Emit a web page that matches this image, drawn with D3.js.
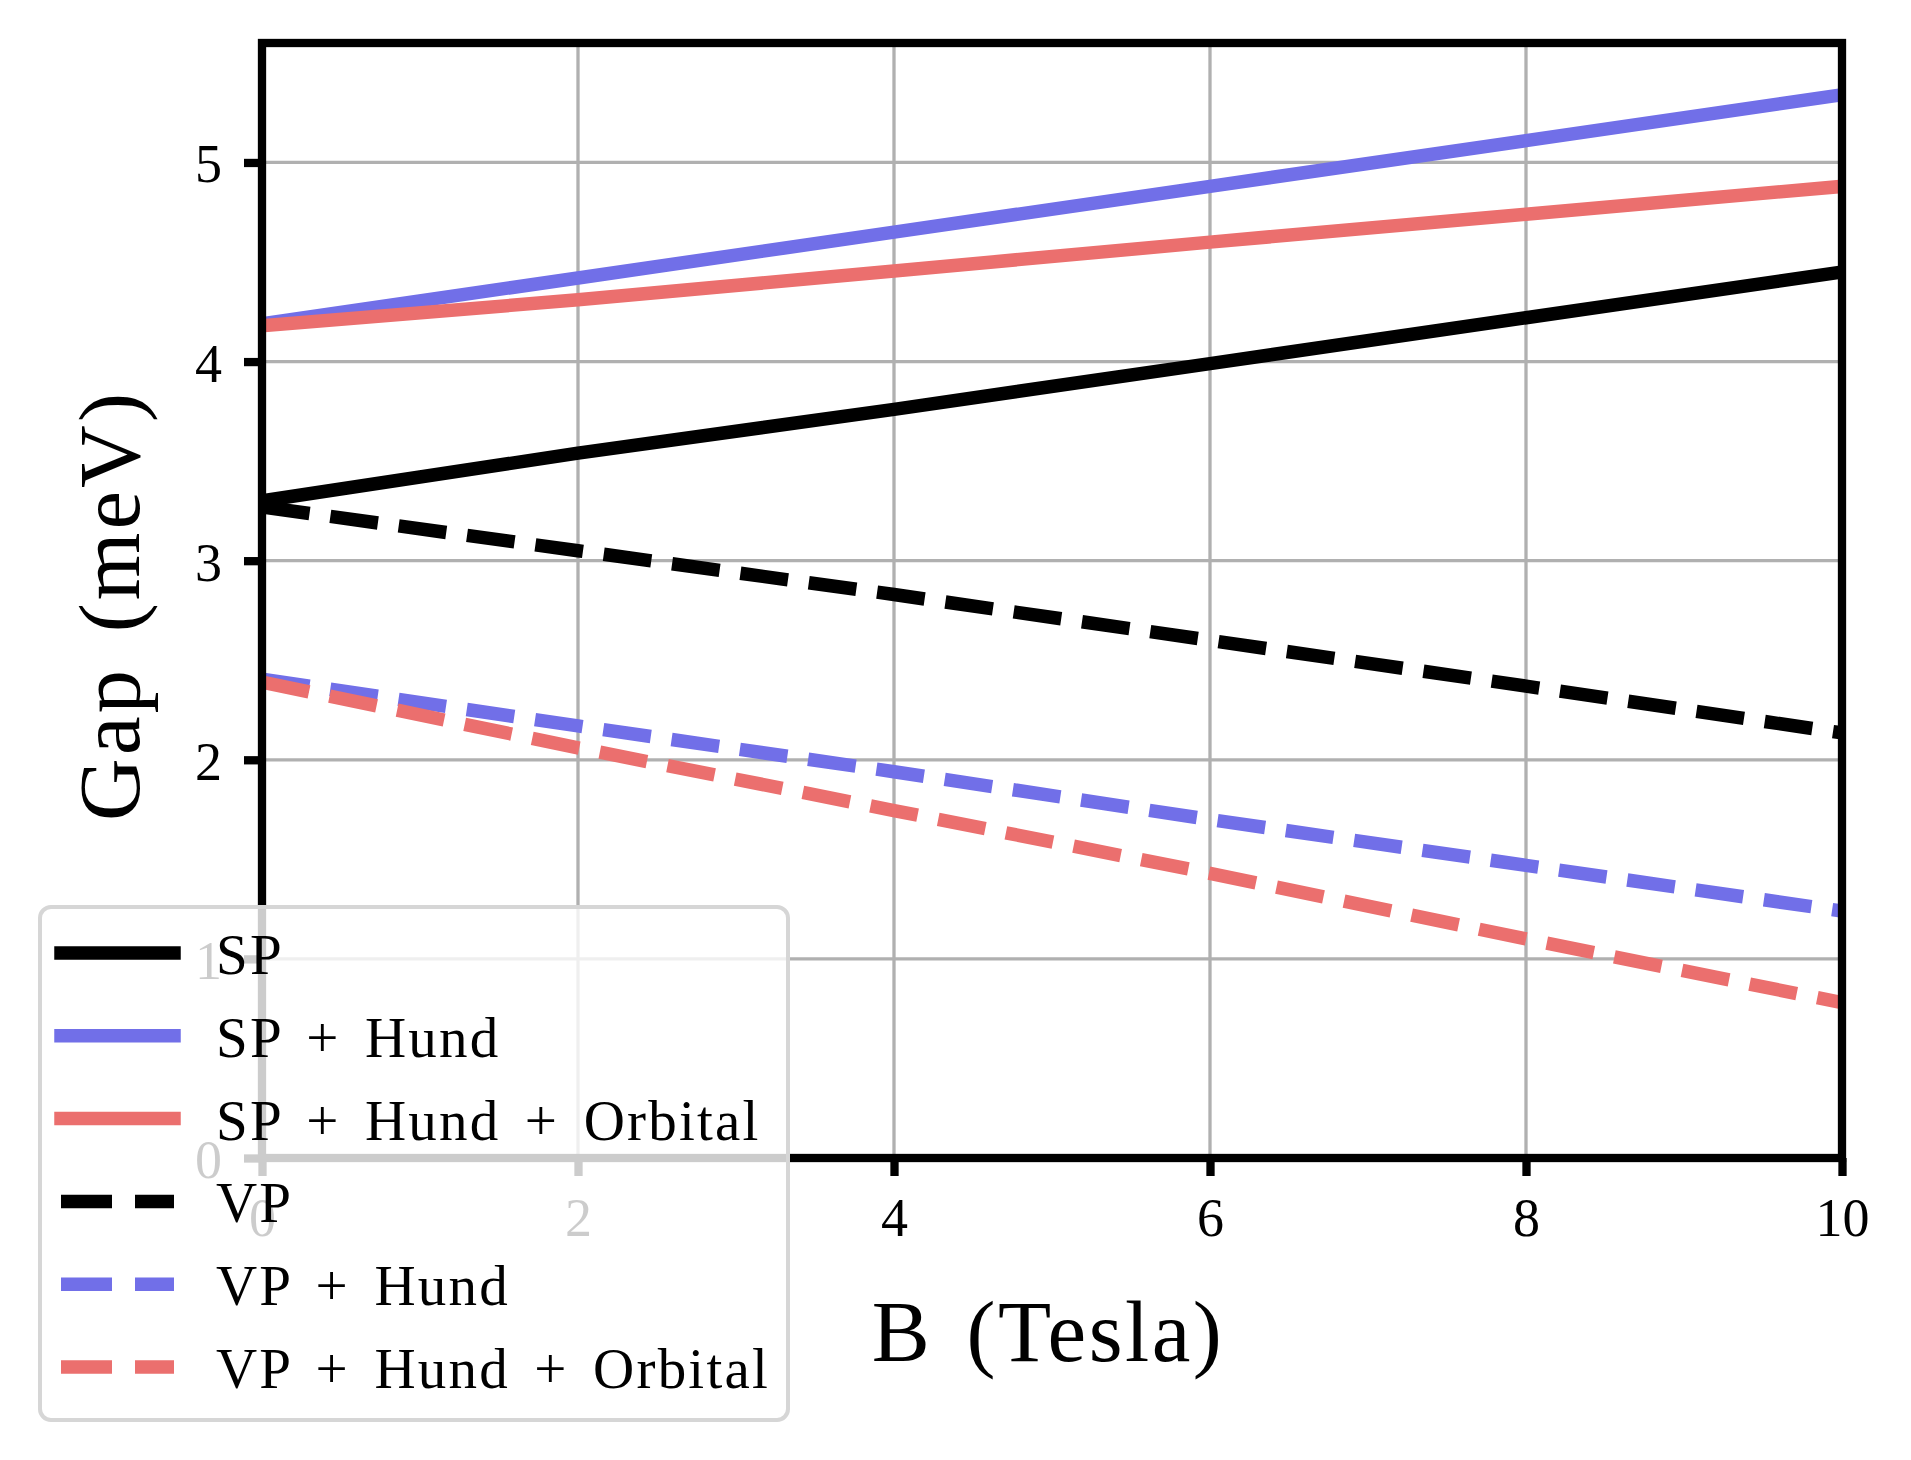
<!DOCTYPE html>
<html>
<head>
<meta charset="utf-8">
<script src="https://cdn.jsdelivr.net/npm/d3@7"></script>
<style>
  body { margin: 0; background: #fff; }
  text { font-family: "Liberation Serif", "Times New Roman", serif; }
</style>
</head>
<body>
<div id="container"></div>
<script>
const fieldB = [0, 2, 4, 6, 8, 10]
const sp = [3.30, 3.54, 3.76, 3.99, 4.22, 4.45]
const spHund = [4.19, 4.42, 4.65, 4.88, 5.11, 5.34]
const spHundOrb = [4.18, 4.31, 4.455, 4.60, 4.74, 4.88]
const vp = [3.27, 3.05, 2.83, 2.60, 2.37, 2.135]
const vpHund = [2.405, 2.17, 1.94, 1.70, 1.47, 1.24]
const vpHundOrb = [2.39, 2.06, 1.745, 1.43, 1.10, 0.78]
const seriesNames = ["SP", "SP + Hund", "SP + Hund + Orbital", "VP", "VP + Hund", "VP + Hund + Orbital"]
const xTicks = [0, 2, 4, 6, 8, 10]
const yTicks = [0, 1, 2, 3, 4, 5]

const w = 1911
const h = 1460
const pLeft = 262, pRight = 1842, pTop = 43, pBottom = 1158

const blue = "#716fe8"
const red = "#eb6f6e"
const series = [
    { name: seriesNames[0], values: sp, color: "#000", dash: null },
    { name: seriesNames[1], values: spHund, color: blue, dash: null },
    { name: seriesNames[2], values: spHundOrb, color: red, dash: null },
    { name: seriesNames[3], values: vp, color: "#000", dash: "48,21" },
    { name: seriesNames[4], values: vpHund, color: blue, dash: "48,21" },
    { name: seriesNames[5], values: vpHundOrb, color: red, dash: "48,21" }
]

const xScale = d3.scaleLinear().domain([0, 10]).range([pLeft, pRight])
const yScale = d3.scaleLinear().domain([0, 5.6]).range([pBottom, pTop])

const svg = d3.select("#container")
    .append("svg")
    .attr("width", w)
    .attr("height", h)

svg.append("defs").append("clipPath").attr("id", "clip")
    .append("rect")
    .attr("x", pLeft).attr("y", pTop)
    .attr("width", pRight - pLeft).attr("height", pBottom - pTop)

// grid
svg.append("g")
    .selectAll("line")
    .data(xTicks)
    .enter()
    .append("line")
    .attr("x1", d => xScale(d)).attr("x2", d => xScale(d))
    .attr("y1", pTop).attr("y2", pBottom)
    .attr("stroke", "#b0b0b0").attr("stroke-width", 3.3)
svg.append("g")
    .selectAll("line")
    .data(yTicks)
    .enter()
    .append("line")
    .attr("y1", d => yScale(d)).attr("y2", d => yScale(d))
    .attr("x1", pLeft).attr("x2", pRight)
    .attr("stroke", "#b0b0b0").attr("stroke-width", 3.3)

// lines
const line = d3.line()
    .x((d, i) => xScale(fieldB[i]))
    .y(d => yScale(d))

svg.append("g")
    .attr("clip-path", "url(#clip)")
    .selectAll("path")
    .data(series)
    .enter()
    .append("path")
    .attr("d", d => line(d.values))
    .attr("fill", "none")
    .attr("stroke", d => d.color)
    .attr("stroke-width", 13.5)
    .attr("stroke-linecap", d => d.dash ? "butt" : "square")
    .attr("stroke-dasharray", d => d.dash)

// axes
const xAxis = d3.axisBottom(xScale).tickValues(xTicks).tickSize(18).tickPadding(22).tickFormat(d3.format("d"))
const yAxis = d3.axisLeft(yScale).tickValues(yTicks).tickSize(18).tickPadding(22).tickFormat(d3.format("d"))

const gx = svg.append("g")
    .attr("transform", `translate(0, ${pBottom})`)
    .call(xAxis)
const gy = svg.append("g")
    .attr("transform", `translate(${pLeft}, 0)`)
    .call(yAxis)

for (const g of [gx, gy]) {
    g.select(".domain").remove()
    g.selectAll(".tick line").attr("stroke", "#000").attr("stroke-width", 8.3)
    g.selectAll(".tick text")
        .attr("fill", "#000")
        .style("font-family", "'Liberation Serif', serif")
        .style("font-size", "54px")
}
gy.selectAll(".tick text").attr("dy", "0.36em")

// spines
svg.append("rect")
    .attr("x", pLeft).attr("y", pTop)
    .attr("width", pRight - pLeft).attr("height", pBottom - pTop)
    .attr("fill", "none")
    .attr("stroke", "#000")
    .attr("stroke-width", 8.3)

// axis labels
svg.append("text")
    .attr("x", (pLeft + pRight) / 2 - 4)
    .attr("y", 1361)
    .attr("text-anchor", "middle")
    .style("font-size", "87px")
    .style("letter-spacing", "2.5px")
    .style("word-spacing", "10px")
    .text("B (Tesla)")

svg.append("text")
    .attr("transform", `translate(139, ${(pTop + pBottom) / 2 + 5}) rotate(-90)`)
    .attr("text-anchor", "middle")
    .style("font-size", "87px")
    .style("letter-spacing", "3px")
    .style("word-spacing", "10px")
    .text("Gap (meV)")

// legend
const legend = svg.append("g")
legend.append("rect")
    .attr("x", 40).attr("y", 907)
    .attr("width", 748).attr("height", 513)
    .attr("rx", 11)
    .attr("fill", "rgba(255,255,255,0.8)")
    .attr("stroke", "#d6d6d6")
    .attr("stroke-width", 4)

const rowY = i => 953 + i * 82.8
const items = legend.selectAll("g.item")
    .data(series)
    .enter()
    .append("g")
    .attr("class", "item")
    .attr("transform", (d, i) => `translate(0, ${rowY(i)})`)

items.append("line")
    .attr("x1", 61).attr("x2", 174)
    .attr("y1", 0).attr("y2", 0)
    .attr("stroke", d => d.color)
    .attr("stroke-width", 13.5)
    .attr("stroke-linecap", d => d.dash ? "butt" : "square")
    .attr("stroke-dasharray", d => d.dash ? "51,23" : null)

items.append("text")
    .attr("x", 216)
    .attr("y", 21)
    .style("font-size", "57px")
    .style("letter-spacing", "2.2px")
    .style("word-spacing", "8px")
    .text(d => d.name)
</script>
</body>
</html>
